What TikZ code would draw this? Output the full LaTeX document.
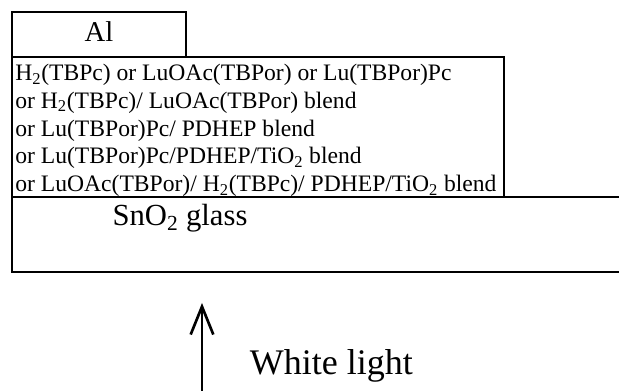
\documentclass[tikz,border=0pt]{standalone}
\usepackage{fontspec}
\setmainfont{Liberation Serif}
\usetikzlibrary{arrows.meta}
\begin{document}
\begin{tikzpicture}[x=0.75pt,y=-0.75pt,line width=2pt,
    layertext/.style={font=\fontsize{17.7}{20.8}\selectfont,align=left,anchor=north west,inner sep=0pt},
    bigtext/.style={font=\fontsize{21.5}{25}\selectfont}]
  \useasboundingbox (0,0) rectangle (619,391);
  % cathode
  \draw (12,12) rectangle node[bigtext,yshift=2.2pt] (al) {Al} (186,57);
  % active layer
  \draw (12,57) rectangle (504,197);
  \node[layertext] (layer) at (14,63) {H\textsubscript{2}(TBPc) or LuOAc(TBPor) or Lu(TBPor)Pc\\
    or H\textsubscript{2}(TBPc)/ LuOAc(TBPor) blend\\
    or Lu(TBPor)Pc/ PDHEP blend\\
    or Lu(TBPor)Pc/PDHEP/TiO\textsubscript{2} blend\\
    or LuOAc(TBPor)/ H\textsubscript{2}(TBPc)/ PDHEP/TiO\textsubscript{2} blend};
  % substrate
  \draw (619,197) -- (12,197) -- (12,272) -- (619,272);
  \node[bigtext,font=\fontsize{23}{27}\selectfont] (glass) at (180,218) {SnO\textsubscript{2} glass};
  % illumination
  \coordinate (lightsrc) at (202,391);
  \coordinate (lighttip) at (202,303);
  \draw[-{Straight Barb[length=21pt,width=17pt]}] (lightsrc) -- (lighttip);
  \node[font=\fontsize{27}{32}\selectfont,anchor=west] (light) at (244,366) {White light};
\end{tikzpicture}
\end{document}
